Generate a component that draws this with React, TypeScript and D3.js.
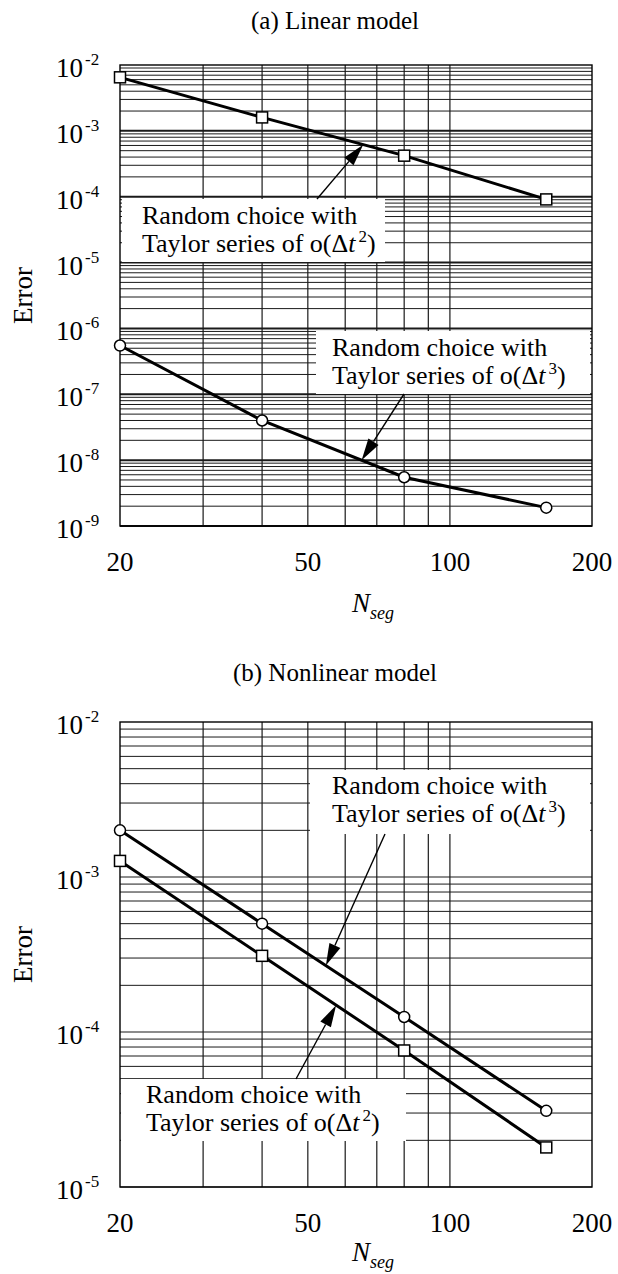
import React from 'react';
import * as d3 from 'd3';

const nSeg = [20, 40, 80, 160];
const linearO2 = [6.5e-3, 1.6e-3, 4.2e-4, 9.1e-5];
const linearO3 = [5.5e-7, 4.0e-8, 5.5e-9, 1.9e-9];
const nonlinearO3 = [2.0e-3, 5.0e-4, 1.25e-4, 3.1e-5];
const nonlinearO2 = [1.27e-3, 3.1e-4, 7.6e-5, 1.8e-5];
const xTicks = [20, 50, 100, 200];
const xGrid = [30, 40, 50, 60, 70, 80, 90, 100];
const yExpA = [-2, -3, -4, -5, -6, -7, -8, -9];
const yExpB = [-2, -3, -4, -5];

const FONT = '"Liberation Serif", "Times New Roman", serif';
const X0 = 120;
const X1 = 592;

type Series = { values: number[]; marker: 'square' | 'circle' };
type Note = {
  box: [number, number, number, number];
  tx: number;
  base: number;
  order: string;
  tipN: number;
  tipSeries: number;
  tail: [number, number];
};

function Panel(props: {
  top: number;
  bottom: number;
  exps: number[];
  title: string;
  titleY: number;
  series: Series[];
  notes: Note[];
  labelY: number;
  decadeWidth: number;
}) {
  const { top, bottom, exps, title, titleY, series, notes, labelY, decadeWidth } = props;
  const x = d3.scaleLog().domain([20, 200]).range([X0, X1]);
  const yMax = Math.pow(10, d3.max(exps) as number);
  const yMin = Math.pow(10, d3.min(exps) as number);
  const y = d3.scaleLog().domain([yMin, yMax]).range([bottom, top]);
  const hLines: { v: number; major: boolean }[] = [];
  for (let e = d3.min(exps) as number; e < (d3.max(exps) as number); e++) {
    for (let m = 1; m <= 9; m++) hLines.push({ v: m * Math.pow(10, e), major: m === 1 });
  }
  const line = d3
    .line<number>()
    .x((_, i) => x(nSeg[i]))
    .y((d) => y(d));

  const tipPoint = (n: Note) => {
    const vals = series[n.tipSeries].values;
    let i = 0;
    while (i < nSeg.length - 2 && nSeg[i + 1] < n.tipN) i++;
    const t = (Math.log(n.tipN) - Math.log(nSeg[i])) / (Math.log(nSeg[i + 1]) - Math.log(nSeg[i]));
    const lv = Math.log(vals[i]) + t * (Math.log(vals[i + 1]) - Math.log(vals[i]));
    return [x(n.tipN), y(Math.exp(lv))];
  };

  return (
    <g fontFamily={FONT} fill="#000">
      <text x={335} y={titleY} fontSize={25} textAnchor="middle">{title}</text>
      {hLines.map((h, i) => (
        <line key={'h' + i} x1={X0} x2={X1} y1={y(h.v)} y2={y(h.v)} stroke="#1a1a1a" strokeWidth={h.major ? decadeWidth : 1} />
      ))}
      {xGrid.map((g) => (
        <line key={'v' + g} x1={x(g)} x2={x(g)} y1={top} y2={bottom} stroke="#1a1a1a" strokeWidth={1.2} />
      ))}
      <rect x={X0} y={top} width={X1 - X0} height={bottom - top} fill="none" stroke="#000" strokeWidth={1.4} />
      {notes.map((n, i) => (
        <rect key={'b' + i} x={n.box[0]} y={n.box[1]} width={n.box[2] - n.box[0]} height={n.box[3] - n.box[1]} fill="#fff" />
      ))}
      {series.map((s, si) => (
        <path key={'l' + si} d={line(s.values) as string} fill="none" stroke="#000" strokeWidth={3} />
      ))}
      {series.map((s, si) =>
        s.values.map((v, i) =>
          s.marker === 'square' ? (
            <rect key={'m' + si + i} x={x(nSeg[i]) - 5.5} y={y(v) - 5.5} width={11} height={11} fill="#fff" stroke="#000" strokeWidth={1.5} />
          ) : (
            <circle key={'m' + si + i} cx={x(nSeg[i])} cy={y(v)} r={5.5} fill="#fff" stroke="#000" strokeWidth={1.5} />
          )
        )
      )}
      {notes.map((n, i) => {
        const [tx, ty] = tipPoint(n);
        const [sx, sy] = n.tail;
        const ang = Math.atan2(ty - sy, tx - sx);
        const L = 22;
        const W = 6;
        const bx = tx - L * Math.cos(ang);
        const by = ty - L * Math.sin(ang);
        const px = -Math.sin(ang) * W;
        const py = Math.cos(ang) * W;
        return (
          <g key={'a' + i}>
            <line x1={sx} y1={sy} x2={bx} y2={by} stroke="#000" strokeWidth={1.4} />
            <path d={`M${tx},${ty}L${bx + px},${by + py}L${bx - px},${by - py}Z`} fill="#000" />
            <text x={n.tx} y={n.base} fontSize={26}>Random choice with</text>
            <text x={n.tx} y={n.base + 28} fontSize={26}>
              Taylor series of o(Δ<tspan fontStyle="italic">t</tspan>
              <tspan fontSize={17} dx={3} dy={-10}>{n.order}</tspan>
              <tspan dy={10}>)</tspan>
            </text>
          </g>
        );
      })}
      {exps.map((e) => (
        <text key={'y' + e} x={56} y={y(Math.pow(10, e)) + 12} fontSize={27}>
          10<tspan fontSize={17} dx={2} dy={-12}>{String(e)}</tspan>
        </text>
      ))}
      {xTicks.map((t) => (
        <text key={'x' + t} x={x(t)} y={bottom + 45} fontSize={27} textAnchor="middle">{t}</text>
      ))}
      <text transform={`translate(32,${(top + bottom) / 2}) rotate(-90)`} fontSize={27} textAnchor="middle">Error</text>
      <text x={352} y={labelY} fontSize={27} fontStyle="italic">
        N<tspan fontSize={18} dy={7}>seg</tspan>
      </text>
    </g>
  );
}

export default function App() {
  return (
    <svg width={618} height={1274} style={{ position: 'absolute', left: 0, top: 0, background: '#fff' }}>
      <rect width={618} height={1274} fill="#fff" />
      <Panel
        top={65}
        bottom={526}
        exps={yExpA}
        title="(a) Linear model"
        titleY={29}
        labelY={612}
        decadeWidth={2}
        series={[
          { values: linearO2, marker: 'square' },
          { values: linearO3, marker: 'circle' },
        ]}
        notes={[
          { box: [122, 199, 385, 262], tx: 142, base: 224, order: '2', tipN: 65.5, tipSeries: 0, tail: [317, 199] },
          { box: [316, 331, 590, 394], tx: 332, base: 356, order: '3', tipN: 65, tipSeries: 1, tail: [404, 394] },
        ]}
      />
      <Panel
        top={722}
        bottom={1187}
        exps={yExpB}
        title="(b) Nonlinear model"
        titleY={681}
        labelY={1261}
        decadeWidth={1.2}
        series={[
          { values: nonlinearO3, marker: 'circle' },
          { values: nonlinearO2, marker: 'square' },
        ]}
        notes={[
          { box: [310, 770, 590, 834], tx: 332, base: 794, order: '3', tipN: 54.6, tipSeries: 0, tail: [385, 834] },
          { box: [121, 1079, 406, 1141], tx: 146, base: 1103, order: '2', tipN: 57.4, tipSeries: 1, tail: [296, 1079] },
        ]}
      />
    </svg>
  );
}
